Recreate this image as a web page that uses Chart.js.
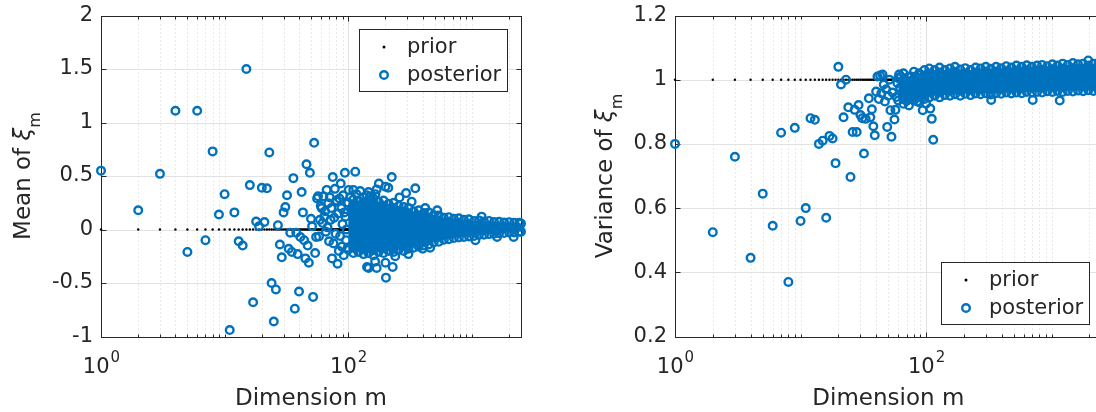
<!DOCTYPE html>
<html>
<head>
<meta charset="utf-8">
<title>Posterior vs prior per dimension</title>
<script src="https://cdn.jsdelivr.net/npm/chart.js"></script>
<style>
  html, body { margin: 0; padding: 0; background: #fff; overflow: hidden; width: 1096px; height: 412px; }
  canvas { position: absolute; top: 0; }
  #meanChart { left: 0; }
  #varChart { left: 548px; }
</style>
</head>
<body>
<canvas id="meanChart" width="548" height="412"></canvas>
<canvas id="varChart" width="560" height="412"></canvas>
<script>
// number of dimensions m = 1..N_DIM
const N_DIM = 2500;
const priorMean = 0;
const priorVar = 1;

// axis ticks
const xMajor = [1, 100];
const xMajorExp = ['0', '2'];
const meanTicks = [-1, -0.5, 0, 0.5, 1, 1.5, 2];
const meanTickLabels = ['-1', '-0.5', '0', '0.5', '1', '1.5', '2'];
const varTicks = [0.2, 0.4, 0.6, 0.8, 1, 1.2];
const varTickLabels = ['0.2', '0.4', '0.6', '0.8', '1', '1.2'];

// posterior mean: individual dimensions [m, value]
const meanScatter = [
  [1, 0.55], [2, 0.18], [3, 0.52], [4, 1.11], [5, -0.21], [6, 1.11], [7, -0.10], [8, 0.73],
  [9, 0.14], [10, 0.33], [11, -0.94], [12, 0.16], [13, -0.11], [14, -0.15], [15, 1.50], [16, 0.415],
  [17, -0.68], [18, 0.075], [19, 0.03], [20, 0.39], [21, 0.07], [22, 0.385], [23, 0.72], [24, -0.50],
  [25, -0.86], [26, -0.56], [27, 0.04], [28, -0.14], [29, -0.26], [30, 0.16], [31, 0.21], [32, 0.32],
  [33, -0.18], [34, -0.03], [35, -0.21], [36, 0.48], [37, -0.74], [38, -0.03], [39, -0.23], [40, -0.58],
  [41, -0.07], [42, 0.35], [43, 0.16], [44, -0.10], [45, -0.27], [46, 0.61], [47, -0.15], [48, -0.31],
  [49, 0.53], [50, 0.10], [51, 0.03], [52, -0.63], [53, 0.81], [54, -0.22], [55, -0.07],
  [56, 0.29], [57, 0.31], [58, -0.065], [59, 0.09], [60, 0.22], [61, 0.20], [62, 0.06], [63, 0.31],
  [64, 0.12], [65, 0.17], [66, -0.02], [67, 0.37], [68, 0.02], [69, 0.245], [70, -0.11], [71, 0.30],
  [72, 0.09], [73, 0.20], [74, -0.27], [75, 0.49], [76, -0.13], [77, 0.11], [78, 0.38], [79, -0.04],
  [80, 0.27], [81, 0.26], [82, -0.32], [83, 0.15], [84, -0.20], [85, 0.29], [86, -0.06], [87, 0.43],
  [88, 0.20], [89, -0.16], [90, 0.05], [91, 0.32], [92, -0.24], [93, 0.16], [94, 0.53], [95, 0.12],
  [96, -0.10], [97, 0.00], [98, 0.25], [99, -0.17], [101, 0.37], [104, 0.30], [107, 0.20], [110, 0.37],
  [114, 0.54], [117, 0.33], [125, 0.36], [141, 0.32], [146, 0.35], [151, 0.31], [166, 0.33], [170, 0.375],
  [177, 0.43], [200, 0.40], [211, 0.39], [225, 0.49], [260, 0.30], [294, 0.34], [326, 0.26], [349, 0.385],
  [420, 0.20], [525, 0.18], [1200, 0.12],
  [142, -0.35], [146, -0.36], [165, -0.30], [170, -0.36], [200, -0.31], [202, -0.45], [229, -0.35],
  [240, -0.25], [307, -0.23], [400, -0.18], [460, -0.17], [1070, -0.10], [1600, -0.07], [2180, -0.07]
];
// posterior mean: upper / lower rim of the dense part (m >= 100)
const meanEdgeM = [100, 110, 121, 133, 146, 160, 176, 193, 212, 233, 256, 281, 308, 338, 372, 408, 448, 492,
  541, 594, 652, 716, 786, 863, 948, 1041, 1143, 1255, 1378, 1513, 1662, 1825, 2004, 2200, 2416, 2500];
const meanUpper = [0.25, 0.28, 0.27, 0.30, 0.28, 0.29, 0.26, 0.27, 0.24, 0.25, 0.22, 0.21, 0.20, 0.17, 0.18, 0.155, 0.16, 0.135,
  0.13, 0.11, 0.115, 0.10, 0.105, 0.09, 0.095, 0.08, 0.085, 0.075, 0.08, 0.07, 0.072, 0.065, 0.068, 0.062, 0.064, 0.055];
const meanLower = [-0.19, -0.22, -0.21, -0.23, -0.22, -0.24, -0.21, -0.22, -0.20, -0.21, -0.19, -0.20, -0.18, -0.17, -0.16, -0.15, -0.14, -0.12,
  -0.115, -0.095, -0.09, -0.08, -0.075, -0.07, -0.065, -0.06, -0.05, -0.048, -0.043, -0.04, -0.035, -0.033, -0.028, -0.027, -0.022, -0.02];

// posterior variance: individual dimensions [m, value]
const varScatter = [
  [1, 0.80], [2, 0.525], [3, 0.76], [4, 0.445], [5, 0.645], [6, 0.545], [7, 0.835], [8, 0.37],
  [9, 0.85], [10, 0.56], [11, 0.60], [12, 0.88], [13, 0.875], [14, 0.80], [15, 0.81], [16, 0.57],
  [17, 0.825], [18, 0.817], [19, 0.74], [20, 1.04], [21, 0.985], [22, 0.883], [23, 1.0], [24, 0.914],
  [25, 0.697], [26, 0.837], [27, 0.906], [28, 0.837], [29, 0.921], [30, 0.89], [31, 0.88], [32, 0.77],
  [33, 0.878], [35, 0.942], [36, 0.883], [37, 0.908], [38, 0.855], [39, 0.827], [40, 0.963], [41, 1.01],
  [42, 0.94], [43, 1.013], [44, 0.958], [45, 1.016], [46, 0.985], [47, 0.932], [48, 0.97], [49, 0.853],
  [50, 0.95], [51, 1.0], [52, 0.905], [53, 0.822], [54, 0.96], [56, 0.876], [57, 0.906], [58, 0.946],
  [59, 0.99], [61, 1.016], [62, 0.975], [63, 1.01], [65, 0.95], [67, 0.995], [69, 0.935], [71, 0.975],
  [74, 0.955], [76, 1.01], [78, 0.965], [82, 0.99], [85, 0.932], [90, 1.015], [94, 0.905], [100, 0.925],
  [108, 0.91], [111, 0.878], [114, 0.813], [330, 0.937], [707, 0.937], [1160, 0.935]
];
// posterior variance: upper / lower rim of the dense part (m >= 60)
const varEdgeM = [60, 66, 73, 80, 88, 97, 106, 117, 128, 141, 155, 170, 187, 205, 226, 248, 272, 299, 328, 361, 396,
  435, 478, 525, 577, 634, 696, 765, 840, 923, 1014, 1114, 1224, 1344, 1477, 1622, 1782, 1958, 2151, 2363, 2500];
const varUpper = [1.005, 1.02, 1.01, 1.025, 1.02, 1.03, 1.035, 1.03, 1.038, 1.03, 1.035, 1.04, 1.032, 1.036, 1.03, 1.038, 1.035, 1.04, 1.034, 1.04, 1.036,
  1.042, 1.038, 1.044, 1.04, 1.045, 1.04, 1.044, 1.046, 1.042, 1.048, 1.044, 1.05, 1.046, 1.052, 1.048, 1.05, 1.06, 1.05, 1.053, 1.05];
const varLower = [0.935, 0.925, 0.92, 0.935, 0.93, 0.94, 0.945, 0.95, 0.945, 0.952, 0.95, 0.955, 0.95, 0.956, 0.952, 0.957, 0.955, 0.958, 0.954, 0.958, 0.956,
  0.96, 0.957, 0.96, 0.958, 0.962, 0.96, 0.962, 0.96, 0.964, 0.962, 0.965, 0.962, 0.965, 0.963, 0.966, 0.964, 0.967, 0.965, 0.967, 0.967];

const BLUE = '#0072BD';
const INK = '#262626';
const FONT = '"DejaVu Sans", sans-serif';

// dotted minor grid on the log axis (every decade step except the labelled ones)
const minorX = [];
for (let k = 0; k <= 3; k++) {
  for (let d = 1; d <= 9; d++) {
    const v = d * Math.pow(10, k);
    if (d === 1 && (k === 0 || k === 2)) continue;
    if (v < N_DIM) minorX.push(v);
  }
}

function hline(ctx, x1, x2, y) { ctx.beginPath(); ctx.moveTo(x1, y); ctx.lineTo(x2, y); ctx.stroke(); }
function vline(ctx, x, y1, y2) { ctx.beginPath(); ctx.moveTo(x, y1); ctx.lineTo(x, y2); ctx.stroke(); }

// MATLAB-like axes: grid, boxed frame with inward ticks, labels and a boxed legend
function axesDecor(cfg) {
  return {
    id: 'axesDecor',
    beforeDatasetsDraw(chart) {
      const { ctx, chartArea: a, scales: { x, y } } = chart;
      const L = Math.round(a.left) + 0.5, R = Math.round(a.right) + 0.5;
      const T = Math.round(a.top) + 0.5, B = Math.round(a.bottom) + 0.5;
      ctx.save();
      ctx.lineWidth = 1;
      ctx.strokeStyle = '#d2d2d2';
      ctx.setLineDash([1, 3]);
      minorX.forEach(v => vline(ctx, Math.round(x.getPixelForValue(v)) + 0.5, T, B));
      ctx.setLineDash([]);
      ctx.strokeStyle = '#e2e2e2';
      xMajor.forEach(v => vline(ctx, Math.round(x.getPixelForValue(v)) + 0.5, T, B));
      cfg.yTicks.forEach(v => hline(ctx, L, R, Math.round(y.getPixelForValue(v)) + 0.5));

      ctx.strokeStyle = INK;
      ctx.strokeRect(L, T, R - L, B - T);
      cfg.yTicks.forEach(v => {
        const py = Math.round(y.getPixelForValue(v)) + 0.5;
        hline(ctx, L, L + 5, py);
        hline(ctx, R - 5, R, py);
      });
      xMajor.forEach(v => {
        const px = Math.round(x.getPixelForValue(v)) + 0.5;
        vline(ctx, px, B, B - 5);
        vline(ctx, px, T, T + 5);
      });
      minorX.forEach(v => {
        const px = Math.round(x.getPixelForValue(v)) + 0.5;
        vline(ctx, px, B, B - 3);
        vline(ctx, px, T, T + 3);
      });
      ctx.restore();
    },
    afterDatasetsDraw(chart) {
      const { ctx, chartArea: a, scales: { x, y } } = chart;
      ctx.save();
      ctx.fillStyle = INK;

      // y tick labels
      ctx.font = '21px ' + FONT;
      ctx.textAlign = 'right';
      ctx.textBaseline = 'middle';
      cfg.yTicks.forEach((v, i) => ctx.fillText(cfg.yLabels[i], a.left - 8, y.getPixelForValue(v)));

      // x tick labels 10^k
      ctx.textAlign = 'left';
      ctx.textBaseline = 'alphabetic';
      xMajor.forEach((v, i) => {
        ctx.font = '21px ' + FONT;
        const wb = ctx.measureText('10').width;
        ctx.font = '15px ' + FONT;
        const we = ctx.measureText(xMajorExp[i]).width;
        const x0 = x.getPixelForValue(v) - (wb + we) / 2;
        ctx.font = '21px ' + FONT;
        ctx.fillText('10', x0, a.bottom + 36.5);
        ctx.font = '15px ' + FONT;
        ctx.fillText(xMajorExp[i], x0 + wb + 1, a.bottom + 25.5);
      });

      // x axis title
      ctx.font = '23px ' + FONT;
      ctx.textAlign = 'center';
      ctx.fillText('Dimension m', (a.left + a.right) / 2, a.bottom + 68.5);

      // y axis title with italic xi and subscript m
      const parts = [
        { t: cfg.yTitle, f: '23px ' + FONT, dy: 0 },
        { t: 'ξ', f: 'italic 23px ' + FONT, dy: 0 },
        { t: 'm', f: '16px ' + FONT, dy: 10 }
      ];
      let total = 0;
      parts.forEach(p => { ctx.font = p.f; p.w = ctx.measureText(p.t).width; total += p.w; });
      ctx.translate(cfg.yTitleX, (a.top + a.bottom) / 2);
      ctx.rotate(-Math.PI / 2);
      ctx.textAlign = 'left';
      let cx = -total / 2;
      parts.forEach(p => { ctx.font = p.f; ctx.fillText(p.t, cx, p.dy); cx += p.w; });
      ctx.setTransform(1, 0, 0, 1, 0, 0);

      // legend box
      const lg = cfg.legend;
      ctx.fillStyle = '#fff';
      ctx.fillRect(lg.x, lg.y, lg.w, lg.h);
      ctx.strokeStyle = INK;
      ctx.lineWidth = 1;
      ctx.strokeRect(lg.x + 0.5, lg.y + 0.5, lg.w, lg.h);
      const r1 = lg.y + 18, r2 = lg.y + 46;
      ctx.fillStyle = '#000';
      ctx.beginPath(); ctx.arc(lg.x + 25, r1, 1.5, 0, Math.PI * 2); ctx.fill();
      ctx.strokeStyle = BLUE;
      ctx.lineWidth = 2.4;
      ctx.beginPath(); ctx.arc(lg.x + 25, r2, 3.8, 0, Math.PI * 2); ctx.stroke();
      ctx.fillStyle = INK;
      ctx.font = '21px ' + FONT;
      ctx.textAlign = 'left';
      ctx.fillText('prior', lg.x + 48, r1 + 6);
      ctx.fillText('posterior', lg.x + 48, r2 + 6);
      ctx.restore();
    }
  };
}

function buildChart(id, opts) {
  const toXY = (ms, vs) => ms.map((m, i) => ({ x: m, y: vs[i] }));
  const prior = [];
  for (let m = 1; m <= N_DIM; m++) prior.push({ x: m, y: opts.priorValue });
  const posterior = opts.scatter.map(p => ({ x: p[0], y: p[1] }))
    .concat(toXY(opts.edgeM, opts.upper), toXY(opts.edgeM, opts.lower));

  return new Chart(document.getElementById(id), {
    type: 'scatter',
    data: {
      datasets: [
        { label: 'prior', data: prior, order: 3, pointRadius: 1.2, backgroundColor: '#000', borderWidth: 0, clip: false },
        { type: 'line', label: 'posterior rim', data: toXY(opts.edgeM, opts.upper), order: 2, fill: '+1',
          backgroundColor: BLUE, borderColor: 'rgba(0,0,0,0)', borderWidth: 1, pointRadius: 0, tension: 0 },
        { type: 'line', label: 'posterior rim low', data: toXY(opts.edgeM, opts.lower), order: 2, fill: false,
          borderColor: 'rgba(0,0,0,0)', borderWidth: 1, pointRadius: 0, tension: 0 },
        { label: 'posterior', data: posterior, order: 1, pointRadius: 3.8, borderWidth: 2.4,
          borderColor: BLUE, backgroundColor: 'rgba(0,0,0,0)', clip: false }
      ]
    },
    options: {
      responsive: false,
      animation: false,
      events: [],
      layout: { padding: opts.padding },
      scales: {
        x: { type: 'logarithmic', min: 1, max: N_DIM, display: false },
        y: { type: 'linear', min: opts.yTicks[0], max: opts.yTicks[opts.yTicks.length - 1], display: false }
      },
      plugins: { legend: { display: false }, tooltip: { enabled: false } }
    },
    plugins: [axesDecor(opts)]
  });
}

buildChart('meanChart', {
  priorValue: priorMean,
  scatter: meanScatter, edgeM: meanEdgeM, upper: meanUpper, lower: meanLower,
  yTicks: meanTicks, yLabels: meanTickLabels,
  yTitle: 'Mean of ', yTitleX: 30,
  padding: { left: 101, right: 27, top: 15.5, bottom: 75.5 },
  legend: { x: 359, y: 29, w: 148, h: 62 }
});

buildChart('varChart', {
  priorValue: priorVar,
  scatter: varScatter, edgeM: varEdgeM, upper: varUpper, lower: varLower,
  yTicks: varTicks, yLabels: varTickLabels,
  yTitle: 'Variance of ', yTitleX: 63.5,
  padding: { left: 127, right: 6, top: 15.5, bottom: 75.5 },
  legend: { x: 393, y: 262, w: 148, h: 62 }
});
</script>
</body>
</html>
